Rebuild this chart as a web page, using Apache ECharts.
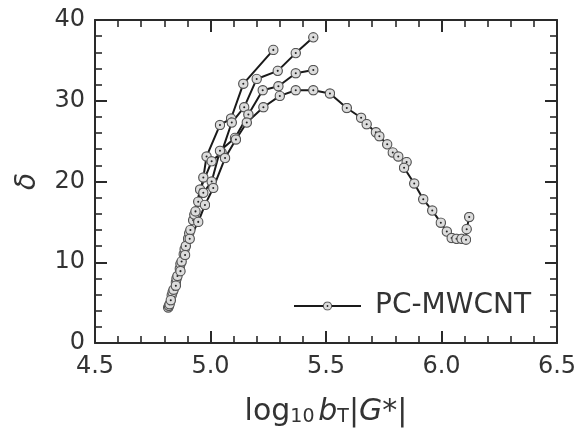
<!DOCTYPE html>
<html>
<head>
<meta charset="utf-8">
<script src="https://cdn.jsdelivr.net/npm/echarts@6/dist/echarts.min.js"></script>
<style>html,body{margin:0;padding:0;background:#fff}#c{width:580px;height:433px}</style>
</head>
<body>
<div id="c"></div>
<script>
// data: [log10 bT|G*|, delta]
const seriesName = 'PC-MWCNT';
const curveA = [[4.817,4.4],[4.832,5.9],[4.85,7.5],[4.867,9.2],[4.884,11.0],[4.903,12.9],[4.925,15.2],[4.947,17.5],[4.969,20.5],[4.983,23.1],[5.041,27.0],[5.089,27.8],[5.142,32.1],[5.272,36.3]];
const curveB = [[4.82,4.6],[4.836,6.3],[4.853,8.0],[4.87,9.8],[4.888,11.6],[4.908,13.6],[4.93,15.9],[4.955,19.0],[5.005,22.5],[5.048,23.6],[5.092,27.3],[5.146,29.2],[5.2,32.7],[5.291,33.7],[5.369,35.9],[5.445,37.85]];
const curveC = [[4.823,4.8],[4.84,6.6],[4.857,8.3],[4.875,10.1],[4.893,12.0],[4.913,14.0],[4.935,16.3],[4.969,18.6],[5.005,20.0],[5.041,23.8],[5.106,25.4],[5.164,28.3],[5.226,31.3],[5.294,31.8],[5.369,33.4],[5.445,33.8]];
const curveD = [[4.828,5.3],[4.85,7.1],[4.87,8.9],[4.89,10.9],[4.91,12.9],[4.947,15.0],[4.976,17.1],[5.012,19.2],[5.063,22.9],[5.11,25.2],[5.157,27.3],[5.229,29.2],[5.30,30.6],[5.369,31.3],[5.445,31.3],[5.517,30.9],[5.59,29.1],[5.652,27.9],[5.676,27.1],[5.716,26.1],[5.731,25.6],[5.765,24.6],[5.789,23.6],[5.813,23.1],[5.849,22.4],[5.838,21.7],[5.882,19.75],[5.921,17.8],[5.96,16.4],[5.997,14.9],[6.023,13.8],[6.044,13.0],[6.065,12.9],[6.087,12.9],[6.106,12.8],[6.109,14.1],[6.12,15.6]];
const curves = [curveA, curveB, curveC, curveD];

const xMin = 4.5, xMax = 6.5, xStep = 0.5;
const yMin = 0, yMax = 40, yStep = 10;

const axisColor = '#2a2a2a';
const txtColor = '#333';
const font = 'DejaVu Sans';

const svg = "<svg xmlns='http://www.w3.org/2000/svg' width='24' height='24'><circle cx='12' cy='12' r='10.2' fill='%23dcdcdc' stroke='%23555' stroke-width='2.6'/><circle cx='12' cy='12' r='2.2' fill='%23222'/></svg>";
const sym = 'image://data:image/svg+xml;utf8,' + svg;

function xAx(pos, show) {
  return {
    type: 'value', position: pos, min: xMin, max: xMax, interval: xStep,
    axisLine: {show: true, onZero: false, lineStyle: {color: axisColor, width: 2}},
    axisTick: {show: true, inside: true, length: 12, lineStyle: {color: axisColor, width: 2}},
    minorTick: {show: true, splitNumber: 5, length: 7, lineStyle: {color: axisColor, width: 1.6}},
    splitLine: {show: false},
    axisLabel: {show: show, margin: 12, color: txtColor, fontSize: 24, fontFamily: font,
      formatter: v => v.toFixed(1)},
  };
}
function yAx(pos, show) {
  return {
    type: 'value', position: pos, min: yMin, max: yMax, interval: yStep,
    axisLine: {show: true, onZero: false, lineStyle: {color: axisColor, width: 2}},
    axisTick: {show: true, inside: true, length: 12, lineStyle: {color: axisColor, width: 2}},
    minorTick: {show: true, splitNumber: 5, length: 7, lineStyle: {color: axisColor, width: 1.6}},
    splitLine: {show: false},
    axisLabel: {show: show, margin: 10, color: txtColor, fontSize: 24, fontFamily: font},
  };
}

const xMain = xAx('bottom', true);
xMain.name = '{r|log}{s|10} {i|b}{s|T}{r||}{i|G}{r|*|}';
xMain.nameLocation = 'middle';
xMain.nameGap = 50;
xMain.nameTextStyle = {
  color: txtColor, fontFamily: font,
  rich: {
    r: {fontSize: 30, fontFamily: font, color: txtColor, lineHeight: 34, verticalAlign: 'bottom'},
    i: {fontSize: 30, fontFamily: font, fontStyle: 'italic', color: txtColor, lineHeight: 34, verticalAlign: 'bottom'},
    s: {fontSize: 19, fontFamily: font, color: txtColor, lineHeight: 12, verticalAlign: 'bottom'}
  }
};
const yMain = yAx('left', true);
yMain.name = 'δ';
yMain.nameLocation = 'middle';
yMain.nameGap = 53;
yMain.nameRotate = 90;
yMain.nameTextStyle = {color: txtColor, fontFamily: font, fontSize: 28, fontStyle: 'italic'};

const chart = echarts.init(document.getElementById('c'), null, {renderer: 'canvas'});
chart.setOption({
  animation: false,
  backgroundColor: '#fff',
  grid: {left: 95, right: 23, top: 20, bottom: 90},
  xAxis: [xMain, xAx('top', false)],
  yAxis: [yMain, yAx('right', false)],
  legend: {
    data: [seriesName], left: 288, top: 287, itemWidth: 67, itemHeight: 12, itemGap: 10,
    textStyle: {fontSize: 28, fontFamily: font, color: txtColor, padding: [0, 0, 0, 9]}
  },
  series: curves.map(c => ({
    name: seriesName, type: 'line', data: c, xAxisIndex: 0, yAxisIndex: 0,
    symbol: sym, symbolSize: 11, showAllSymbol: true,
    lineStyle: {color: '#1a1a1a', width: 2},
    itemStyle: {color: '#1a1a1a'},
    z: 3
  }))
});
</script>
</body>
</html>
